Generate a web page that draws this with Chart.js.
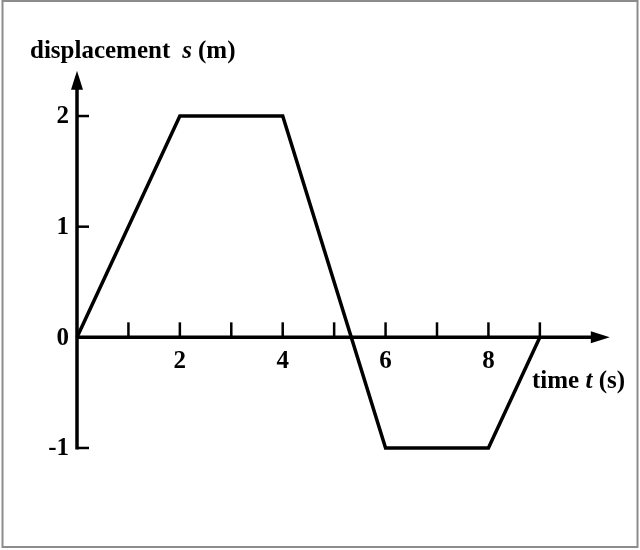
<!DOCTYPE html>
<html>
<head>
<meta charset="utf-8">
<script src="https://cdn.jsdelivr.net/npm/chart.js@4"></script>
<style>
  body { margin: 0; background: #fff; }
</style>
</head>
<body>
<canvas id="myChart" width="640" height="550"></canvas>
<script>
// data
const times = [0, 2, 4, 6, 8, 9]
const displacement = [0, 2, 2, -1, -1, 0]

const xTicks = [1, 2, 3, 4, 5, 6, 7, 8, 9]
const xTickLabels = ['', '2', '', '4', '', '6', '', '8', '']
const yTicks = [2, 1, 0, -1]
const yTickLabels = ['2', '1', '0', '-1']

const FONT = 'bold 25px "Liberation Serif", "Times New Roman", serif'
const FONT_IT = 'italic bold 25px "Liberation Serif", "Times New Roman", serif'

// axes, ticks, arrows and texts
const axesPlugin = {
  id: 'axes',
  afterDraw(chart) {
    let ctx = chart.ctx
    let x = chart.scales.x
    let y = chart.scales.y
    let x0 = x.getPixelForValue(0)
    let y0 = y.getPixelForValue(0)

    ctx.save()
    // frame
    ctx.strokeStyle = '#8c8c8c'
    ctx.lineWidth = 2
    ctx.strokeRect(2.5, 1, 635, 546)

    ctx.strokeStyle = '#000'
    ctx.fillStyle = '#000'
    ctx.lineWidth = 3.5
    ctx.lineCap = 'butt'

    // y axis
    let yTop = y.getPixelForValue(2.41)
    ctx.beginPath()
    ctx.moveTo(x0, y.getPixelForValue(-1) + 1.5)
    ctx.lineTo(x0, yTop + 10)
    ctx.stroke()
    ctx.beginPath()
    ctx.moveTo(x0, yTop)
    ctx.lineTo(x0 - 6, yTop + 19)
    ctx.lineTo(x0 + 6, yTop + 19)
    ctx.closePath()
    ctx.fill()

    // x axis
    let xEnd = x.getPixelForValue(10.36)
    ctx.beginPath()
    ctx.moveTo(x0, y0)
    ctx.lineTo(xEnd - 10, y0)
    ctx.stroke()
    ctx.beginPath()
    ctx.moveTo(xEnd, y0)
    ctx.lineTo(xEnd - 19, y0 - 6)
    ctx.lineTo(xEnd - 19, y0 + 6)
    ctx.closePath()
    ctx.fill()

    // x ticks
    ctx.lineWidth = 2.5
    xTicks.forEach(v => {
      let px = x.getPixelForValue(v)
      ctx.beginPath()
      ctx.moveTo(px, y0)
      ctx.lineTo(px, y0 - 15)
      ctx.stroke()
    })
    // y ticks
    yTicks.forEach(v => {
      if (v == 0) return
      let py = y.getPixelForValue(v)
      ctx.beginPath()
      ctx.moveTo(x0, py)
      ctx.lineTo(x0 + 12, py)
      ctx.stroke()
    })

    // tick labels
    ctx.font = FONT
    ctx.textAlign = 'center'
    ctx.textBaseline = 'alphabetic'
    xTicks.forEach((v, i) => {
      ctx.fillText(xTickLabels[i], x.getPixelForValue(v), y0 + 31)
    })
    ctx.textAlign = 'right'
    ctx.textBaseline = 'middle'
    yTicks.forEach((v, i) => {
      ctx.fillText(yTickLabels[i], x0 - 8, y.getPixelForValue(v) + 1)
    })

    // axis titles
    ctx.textAlign = 'left'
    ctx.textBaseline = 'alphabetic'
    let tx = 30
    ctx.font = FONT
    ctx.fillText('displacement', tx, 58)
    tx += ctx.measureText('displacement').width + 12
    ctx.font = FONT_IT
    ctx.fillText('s', tx, 58)
    tx += ctx.measureText('s').width + 6
    ctx.font = FONT
    ctx.fillText('(m)', tx, 58)

    tx = 532
    ctx.fillText('time', tx, 388)
    tx += ctx.measureText('time ').width
    ctx.font = FONT_IT
    ctx.fillText('t', tx, 388)
    tx += ctx.measureText('t ').width
    ctx.font = FONT
    ctx.fillText('(s)', tx, 388)
    ctx.restore()
  }
}

const bgPlugin = {
  id: 'bg',
  beforeDraw(chart) {
    let ctx = chart.ctx
    ctx.save()
    ctx.fillStyle = '#fff'
    ctx.fillRect(0, 0, chart.width, chart.height)
    ctx.restore()
  }
}

let ctx = document.getElementById('myChart').getContext('2d')
let myChart = new Chart(ctx, {
  type: 'line',
  data: {
    datasets: [{
      data: times.map((t, i) => ({ x: t, y: displacement[i] })),
      borderColor: '#000',
      borderWidth: 3.5,
      borderJoinStyle: 'miter',
      pointRadius: 0,
      tension: 0,
      fill: false,
      clip: false
    }]
  },
  options: {
    responsive: false,
    animation: false,
    layout: { padding: { left: 77, right: 23, top: 60.7, bottom: 46.7 } },
    plugins: { legend: { display: false }, tooltip: { enabled: false }, title: { display: false } },
    scales: {
      x: { type: 'linear', min: 0, max: 10.5, display: false },
      y: { type: 'linear', min: -1.5, max: 2.5, display: false }
    }
  },
  plugins: [bgPlugin, axesPlugin]
})
</script>
</body>
</html>
